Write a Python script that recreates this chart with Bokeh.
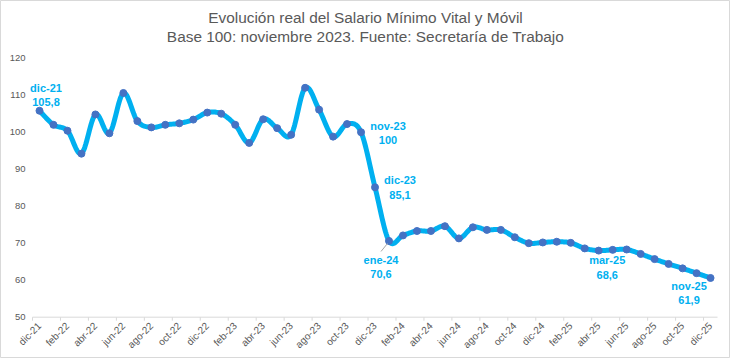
import numpy as np
from bokeh.plotting import figure
from bokeh.models import Range1d, Label, ColumnDataSource
from bokeh.core.properties import value
from bokeh.embed import file_html
from bokeh.resources import INLINE

# ---- data ----
months = [
    "dic-21",
    "ene-22", "feb-22", "mar-22", "abr-22", "may-22", "jun-22",
    "jul-22", "ago-22", "sep-22", "oct-22", "nov-22", "dic-22",
    "ene-23", "feb-23", "mar-23", "abr-23", "may-23", "jun-23",
    "jul-23", "ago-23", "sep-23", "oct-23", "nov-23", "dic-23",
    "ene-24", "feb-24", "mar-24", "abr-24", "may-24", "jun-24",
    "jul-24", "ago-24", "sep-24", "oct-24", "nov-24", "dic-24",
    "ene-25", "feb-25", "mar-25", "abr-25", "may-25", "jun-25",
    "jul-25", "ago-25", "sep-25", "oct-25", "nov-25", "dic-25",
]
values = [
    105.8,
    102.0, 100.4, 94.2, 104.8, 99.7, 110.6,
    103.0, 101.3, 102.0, 102.4, 103.4, 105.3,
    105.0, 102.0, 97.1, 103.5, 101.1, 99.3,
    112.0, 106.1, 98.8, 102.2, 100.0, 85.1,
    70.6, 72.1, 73.3, 73.3, 74.6, 71.3,
    74.3, 73.6, 73.6, 71.6, 70.0, 70.2,
    70.4, 70.1, 68.6, 68.0, 68.2, 68.3,
    67.1, 65.7, 64.4, 63.2, 61.9, 60.6,
]
y_ticks = [50, 60, 70, 80, 90, 100, 110, 120]
tick_labels = months[::2]
labeled_months = ["dic-21", "nov-23", "dic-23", "ene-24", "mar-25", "nov-25"]
title_lines = [
    "Evolución real del Salario Mínimo Vital y Móvil",
    "Base 100: noviembre 2023. Fuente: Secretaría de Trabajo",
]

# ---- styles / layout ----
LINE_C = "#00B0F0"
MARK_C = "#4472C4"
TXT_C = "#595959"
AX_C = "#D9D9D9"
FONT = "Liberation Sans"
label_dx = [6.5, 27, 25, -8, 22.5, -7.5]
label_dy = [-15.5, 1, 0, 26, 19, 20]

W, H = 730, 358
X0_PX = 39.0       # pixel of first category centre
PX_PER_X = 13.98   # pixels per category
Y_BASE_PX = 316.7  # pixel of axis base value
PX_PER_Y = 3.7     # pixels per unit
y_base = y_ticks[0]

x_lo = -X0_PX / PX_PER_X
x_hi = (W - X0_PX) / PX_PER_X
y_hi = y_base + Y_BASE_PX / PX_PER_Y
y_lo = y_base - (H - Y_BASE_PX) / PX_PER_Y

xs = np.arange(len(months), dtype=float)
ys = np.array(values, dtype=float)


def smooth(x, y, n=16):
    pts = np.column_stack([x, y])
    out = []
    N = len(pts)
    for k in range(N - 1):
        p0 = pts[k - 1] if k > 0 else pts[k]
        p1 = pts[k]
        p2 = pts[k + 1]
        p3 = pts[k + 2] if k + 2 < N else pts[k + 1]
        c1 = p1 + (p2 - p0) / 6.0
        c2 = p2 - (p3 - p1) / 6.0
        t = np.linspace(0, 1, n, endpoint=(k == N - 2))[:, None]
        seg = ((1 - t) ** 3) * p1 + 3 * ((1 - t) ** 2) * t * c1 + 3 * (1 - t) * t ** 2 * c2 + t ** 3 * p2
        out.append(seg)
    a = np.vstack(out)
    return a[:, 0], a[:, 1]


p = figure(width=W, height=H, output_backend="svg", toolbar_location=None,
           x_range=Range1d(x_lo, x_hi), y_range=Range1d(y_lo, y_hi),
           min_border=0)
p.outline_line_color = AX_C
p.grid.visible = False
p.xaxis.visible = False
p.yaxis.visible = False
p.background_fill_color = "white"
p.border_fill_color = "white"

# y tick labels
p.text(x=[x_lo] * len(y_ticks), y=y_ticks, text=[str(v) for v in y_ticks], x_offset=25,
       text_font=value(FONT), text_font_size="9.5px", text_color=TXT_C,
       text_align="right", text_baseline="middle")

# category axis line and boundary ticks
p.segment(x0=[-0.5], y0=[y_base], x1=[len(months) - 0.5], y1=[y_base], line_color=AX_C, line_width=1)
tick_idx = list(range(0, len(months), 2))
bounds = [i - 0.5 for i in tick_idx]
p.segment(x0=bounds, y0=[y_base] * len(bounds), x1=bounds, y1=[y_base - 3.5 / PX_PER_Y] * len(bounds),
          line_color=AX_C, line_width=1)

# x tick labels (rotated)
p.text(x=tick_idx, y=[y_base] * len(tick_idx), text=tick_labels, angle=np.pi / 4,
       x_offset=0, y_offset=7,
       text_font=value(FONT), text_font_size="10px", text_color=TXT_C,
       text_align="right", text_baseline="middle")

# smoothed line + markers
sx, sy = smooth(xs, ys)
p.line(sx, sy, line_color=LINE_C, line_width=5, line_cap="round", line_join="round")
p.scatter(xs, ys, size=7, fill_color=MARK_C, line_color=MARK_C)

# data labels
li = [months.index(m) for m in labeled_months]
lab_txt = [f"{months[i]}\n{values[i]:g}".replace(".", ",") for i in li]
src = ColumnDataSource(dict(x=[xs[i] for i in li], y=[values[i] for i in li], t=lab_txt,
                            dx=label_dx, dy=label_dy))
p.text(x="x", y="y", text="t", x_offset="dx", y_offset="dy", source=src,
       text_font=value(FONT), text_font_size="11px", text_font_style="bold",
       text_color=LINE_C, text_align="center", text_baseline="middle", text_line_height=1.2)

# leader line for ene-24
j = months.index("ene-24")
p.segment(x0=[xs[j] - 1.5 / PX_PER_X], y0=[values[j] - 2.5 / PX_PER_Y],
          x1=[xs[j] - 8 / PX_PER_X], y1=[values[j] - 10.5 / PX_PER_Y],
          line_color="#A6A6A6", line_width=1)

# title
for k, t in enumerate(title_lines):
    p.add_layout(Label(x=365, y=H - 17 - 19 * k, x_units="screen", y_units="screen", text=t,
                       text_align="center", text_baseline="middle", text_font=FONT,
                       text_font_size="15.4px", text_color=TXT_C))

open("out.html", "w").write(file_html(p, INLINE))
